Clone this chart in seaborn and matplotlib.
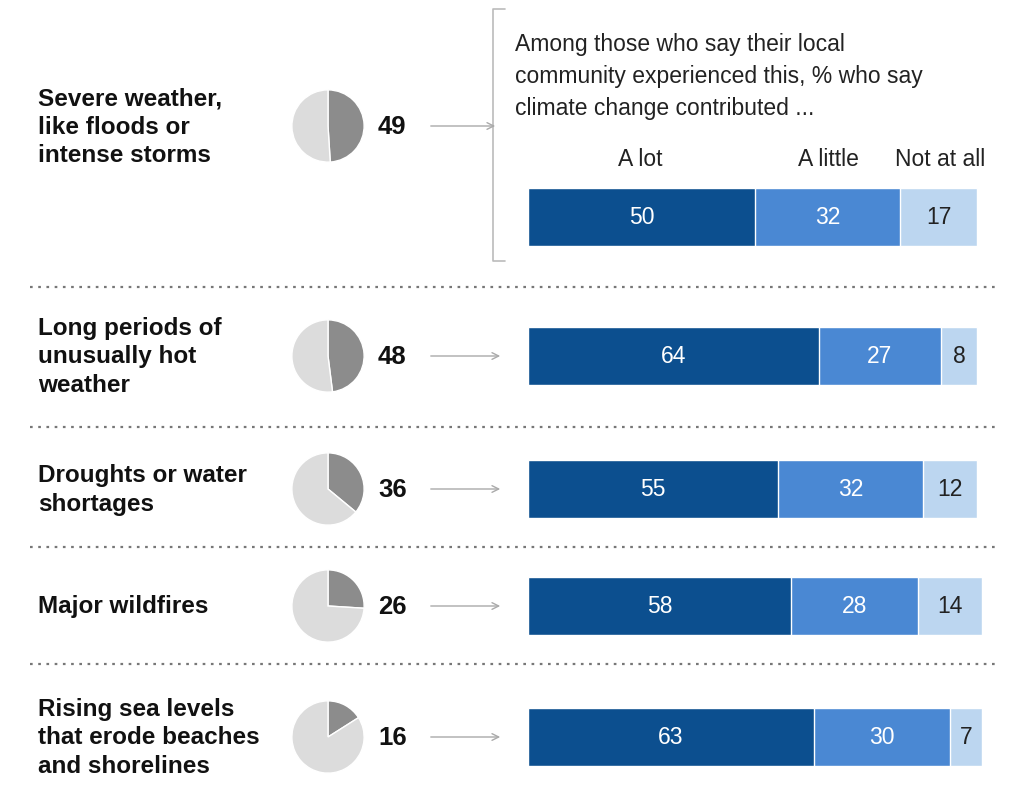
import matplotlib
matplotlib.use("Agg")
import matplotlib.pyplot as plt
import seaborn as sns
import pandas as pd

sns.set_theme(style="white")
plt.rcParams['font.family'] = ['Liberation Sans', 'DejaVu Sans']

labels = ["Severe weather,\nlike floods or\nintense storms",
          "Long periods of\nunusually hot\nweather",
          "Droughts or water\nshortages",
          "Major wildfires",
          "Rising sea levels\nthat erode beaches\nand shorelines"]
experienced = [49, 48, 36, 26, 16]
a_lot = [50, 64, 55, 58, 63]
a_little = [32, 27, 32, 28, 30]
not_at_all = [17, 8, 12, 14, 7]

row_y = [218, 357, 490, 607, 738]
label_y = [127, 357, 490, 607, 738]
seps = [288, 428, 548, 665]
DARK, MID, LIGHT = "#0c4f8f", "#4a88d3", "#bcd6f0"
W, H = 1024, 803

fig = plt.figure(figsize=(W / 100, H / 100), dpi=100)
bg = fig.add_axes([0, 0, 1, 1])
bg.set_xlim(0, W)
bg.set_ylim(H, 0)
bg.axis("off")

for s in seps:
    bg.plot([30, 1000], [s, s], ls=(0, (1.2, 2.5)), color="#777777", lw=1.6)

bg.text(515, 77, "Among those who say their local\ncommunity experienced this, % who say\nclimate change contributed ...",
        fontsize=16.5, va="center", ha="left", color="#222222", linespacing=1.5)
for x, t in [(640, "A lot"), (828, "A little"), (940, "Not at all")]:
    bg.text(x, 160, t, fontsize=16.5, ha="center", va="center", color="#222222")

# bracket
bg.plot([505, 493, 493, 505], [10, 10, 262, 262], color="#bbbbbb", lw=1.2)

for i in range(5):
    bg.text(38, label_y[i], labels[i], fontsize=17.5, fontweight="bold", va="center",
            ha="left", linespacing=1.3, color="#111111")
    bg.text(378, label_y[i], str(experienced[i]), fontsize=18.5,
            fontweight="bold", va="center", ha="left", color="#111111")
    ay = label_y[i]
    bg.annotate("", xy=(498 if i == 0 else 503, ay), xytext=(428, ay),
                arrowprops=dict(arrowstyle="->", color="#aaaaaa", lw=1))

    # pie
    cy = label_y[i]
    pax = fig.add_axes([(328 - 37) / W, 1 - (cy + 37) / H, 74 / W, 74 / H])
    pax.pie([experienced[i], 100 - experienced[i]], colors=["#8c8c8c", "#dcdcdc"],
            startangle=90, counterclock=False, radius=1.22)
    pax.set_aspect("equal")

    # stacked bar via cumulative overlay
    bax = fig.add_axes([528 / W, 1 - (row_y[i] + 29) / H, 454 / W, 58 / H])
    df = pd.DataFrame({"row": [labels[i]],
                       "total": [a_lot[i] + a_little[i] + not_at_all[i]],
                       "two": [a_lot[i] + a_little[i]],
                       "one": [a_lot[i]]})
    sns.barplot(data=df, x="total", y="row", color=LIGHT, width=1, ax=bax, saturation=1)
    sns.barplot(data=df, x="two", y="row", color=MID, width=1, ax=bax, saturation=1)
    sns.barplot(data=df, x="one", y="row", color=DARK, width=1, ax=bax, saturation=1)
    bax.set_xlim(0, 100)
    bax.set_ylim(0.5, -0.5)
    bax.axis("off")
    segs = [(a_lot[i], 0, "white"), (a_little[i], a_lot[i], "white"),
            (not_at_all[i], a_lot[i] + a_little[i], "#222222")]
    for v, left, c in segs:
        bax.text(left + v / 2, 0, str(v), ha="center", va="center", fontsize=16.5, color=c)

fig.savefig("out.png", dpi=100)
